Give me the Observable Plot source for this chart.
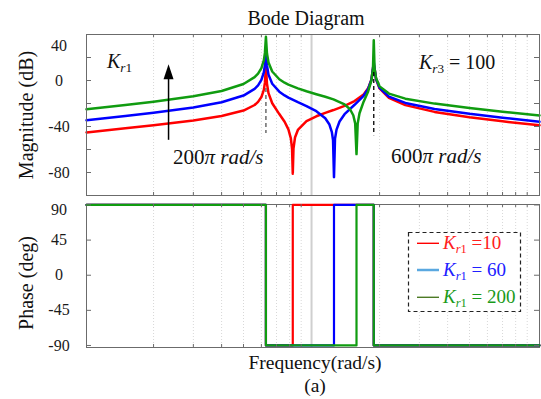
<!DOCTYPE html>
<html><head><meta charset="utf-8">
<script src="https://cdn.jsdelivr.net/npm/d3@7"></script>
<script src="https://cdn.jsdelivr.net/npm/@observablehq/plot@0.6"></script>
<style>
body{margin:0;background:#fff}
#fig{position:relative;width:541px;height:399px;overflow:hidden;background:#fff;font-family:'Liberation Serif','DejaVu Serif',serif}
#fig svg{position:absolute;left:0}
#fig svg text{font-family:'Liberation Serif','DejaVu Serif',serif !important}
</style></head><body><div id="fig"></div>
<script>
// ---- magnitude data (rad/s, dB) ----
const redFreq  = [101,150,200,300,400,500,560,580,600,615,622,628.3,635,645,670,720,760,790,810,820,826,832,845,870,950,1050,1150,1250,1400,1550,1700,1780,1840,1870,1885,1900,1930,2000,2200,2600,3500,5000,7000,10200];
const redMag   = [-45.2,-41.6,-38.9,-34.7,-30.8,-26.1,-21.3,-18.6,-14.4,-8.2,-1.9,12,-2.7,-11.0,-19.8,-29.2,-35.9,-42.5,-50.3,-59.4,-81,-59.1,-49.6,-43.0,-35.3,-31.1,-28.1,-25.7,-22.1,-17.9,-12.1,-6.8,0.8,10.4,14,10.5,1.1,-6.9,-15.1,-21.4,-27.3,-31.9,-35.5,-39.0];
const blueFreq = [101,150,200,300,400,500,560,580,600,615,622,628.3,635,645,670,720,760,790,870,950,1050,1150,1200,1230,1245,1257,1270,1290,1330,1400,1550,1700,1780,1840,1870,1885,1900,1930,2000,2200,2600,3500,5000,7000,10200];
const blueMag  = [-34.6,-30.9,-28.1,-23.4,-18.9,-13.1,-7.3,-4.2,0.5,7.0,13.5,27,13.1,5.1,-2.8,-9.7,-13.0,-14.9,-18.9,-22.3,-26.7,-32.8,-38.3,-44.9,-52.0,-84,-50.7,-42.7,-35.7,-29.3,-21.1,-13.3,-7.4,0.5,10.4,16,10.6,1.3,-6.4,-14.0,-19.5,-24.7,-29.0,-32.4,-35.9];
const greenFreq= [101,150,200,300,400,500,560,580,600,615,622,628.3,635,645,670,720,760,790,870,950,1050,1150,1250,1400,1480,1530,1560,1581,1600,1630,1700,1780,1840,1870,1885,1900,1930,2000,2200,2600,3500,5000,7000,10200];
const greenMag = [-25.1,-21.4,-18.5,-13.7,-9.1,-3.0,2.9,6.0,10.8,17.4,24.0,38,23.5,15.6,7.8,1.1,-1.9,-3.6,-6.9,-9.4,-11.9,-14.1,-16.4,-20.8,-25.0,-30.2,-37.3,-64,-37.5,-28.5,-18.4,-9.5,-0.2,10.1,35,10.8,1.9,-5.1,-11.4,-15.8,-20.1,-23.9,-27.1,-30.4];

// ---- phase data (step breakpoints) ----
const phaseRedFreq   = [101, 628.3, 826, 1885, 10200];
const phaseBlueFreq  = [101, 628.3, 1257, 1885, 10200];
const phaseGreenFreq = [101, 628.3, 1581, 1885, 10200];
const phaseValues    = [90, -90, 90, -90, -90];

// ---- axes ----
const freqDomain = [101, 10200];
const magDomain = [-100, 40];
const phaseDomain = [-92.6, 90.6];
const magTicks = [40, 20, 0, -20, -40, -60, -80, -100];
const magLabels = [0, -40, -80];
const magTopLabel = [40];
const phaseTicks = [90, 45, 0, -45, -90];
const phaseLabels = [45, 0, -45, -90];
const phaseTopLabel = [90];
const minorFreqs = [200,300,400,500,600,700,800,900,2000,3000,4000,5000,6000,7000,8000,9000];
const majorFreqs = [1000];
const resonance1 = [{f: 628.3, y1: -7, y2: -46}];
const resonance3 = [{f: 1885, y1: 7, y2: -48}];
const arrowData = [{f: 233, from: -52, to: 1}];
const legendValues = ["10", "60", "200"];

const RED = "#ff0000", BLUE = "#0000ff", GREEN = "#109c10", FRAME = "#6b6b6b";
const FONT = "Liberation Serif, DejaVu Serif, serif";

const tbl = (fs, vs) => fs.map((f, i) => ({f, v: vs[i]}));
const redT = tbl(redFreq, redMag), blueT = tbl(blueFreq, blueMag), greenT = tbl(greenFreq, greenMag);
const pRed = tbl(phaseRedFreq, phaseValues), pBlue = tbl(phaseBlueFreq, phaseValues), pGreen = tbl(phaseGreenFreq, phaseValues);

const arrowHead = {draw(ctx) { ctx.moveTo(0, -15); ctx.lineTo(5, 0); ctx.lineTo(-5, 0); ctx.closePath(); }};

const style = {fontFamily: FONT, fontSize: "16px", background: "transparent", color: "#1a1a1a", overflow: "visible"};

const topPlot = Plot.plot({
  width: 541, height: 200, marginTop: 34, marginBottom: 5, marginLeft: 86, marginRight: 2,
  style,
  x: {type: "log", domain: freqDomain, axis: null},
  y: {domain: magDomain, axis: null},
  marks: [
    Plot.ruleX(minorFreqs, {stroke: "#d8d8d8", strokeDasharray: "1,2"}),
    Plot.ruleX(majorFreqs, {stroke: "#cfcfcf", strokeWidth: 2}),
    Plot.line(redT, {x: "f", y: "v", stroke: RED, strokeWidth: 2.5}),
    Plot.line(blueT, {x: "f", y: "v", stroke: BLUE, strokeWidth: 2.5}),
    Plot.line(greenT, {x: "f", y: "v", stroke: GREEN, strokeWidth: 2.5}),
    Plot.ruleX(resonance1, {x: "f", y1: "y1", y2: "y2", stroke: "#555", strokeWidth: 1.3, strokeDasharray: "4,3"}),
    Plot.ruleX(resonance3, {x: "f", y1: "y1", y2: "y2", stroke: "#000", strokeWidth: 1.3, strokeDasharray: "4,3"}),
    Plot.ruleX(arrowData, {x: "f", y1: "from", y2: "to", stroke: "#000", strokeWidth: 1.5}),
    Plot.dot(arrowData, {x: "f", y: "to", symbol: arrowHead, fill: "#000", stroke: "none"}),
    Plot.frame({stroke: FRAME}),
    Plot.ruleY(magTicks, {insetRight: 448, stroke: FRAME}),
    Plot.ruleY(magTicks, {insetLeft: 448, stroke: FRAME}),
    Plot.ruleX(minorFreqs, {insetTop: 158, stroke: FRAME}),
    Plot.ruleX(minorFreqs, {insetBottom: 158, stroke: FRAME}),
    Plot.text(magLabels, {y: d => d, text: d => String(d), frameAnchor: "left", dx: -27.5, textAnchor: "middle", fill: "#1a1a1a"}),
    Plot.text(magTopLabel, {y: d => d, text: d => String(d), frameAnchor: "left", dx: -27.5, dy: 11, textAnchor: "middle", fill: "#1a1a1a"})
  ]
});

const botPlot = Plot.plot({
  width: 541, height: 150, marginTop: 4, marginBottom: 3, marginLeft: 86, marginRight: 2,
  style,
  x: {type: "log", domain: freqDomain, axis: null},
  y: {domain: phaseDomain, axis: null},
  marks: [
    Plot.ruleX(minorFreqs, {stroke: "#d8d8d8", strokeDasharray: "1,2"}),
    Plot.ruleX(majorFreqs, {stroke: "#cfcfcf", strokeWidth: 2}),
    Plot.frame({stroke: FRAME}),
    Plot.line(pRed, {x: "f", y: "v", curve: "step-after", stroke: RED, strokeWidth: 2.2}),
    Plot.line(pBlue, {x: "f", y: "v", curve: "step-after", stroke: BLUE, strokeWidth: 2.2}),
    Plot.line(pGreen, {x: "f", y: "v", curve: "step-after", stroke: GREEN, strokeWidth: 2.2}),
    Plot.ruleY(phaseTicks, {insetRight: 448, stroke: FRAME}),
    Plot.ruleY(phaseTicks, {insetLeft: 448, stroke: FRAME}),
    Plot.ruleX(minorFreqs, {insetTop: 140, stroke: FRAME}),
    Plot.ruleX(minorFreqs, {insetBottom: 140, stroke: FRAME}),
    Plot.text(phaseLabels, {y: d => d, text: d => String(d), frameAnchor: "left", dx: -27.5, textAnchor: "middle", fill: "#1a1a1a"}),
    Plot.text(phaseTopLabel, {y: d => d, text: d => String(d), frameAnchor: "left", dx: -27.5, dy: 4.5, textAnchor: "middle", fill: "#1a1a1a"})
  ]
});

const fig = document.getElementById("fig");
topPlot.style.top = "0px";
botPlot.style.top = "200px";
fig.appendChild(topPlot);
fig.appendChild(botPlot);

// rich text helper (italic / subscript pieces)
function rich(sel, x, y, size, fill, parts, anchor) {
  const t = sel.append("text").attr("x", x).attr("y", y).attr("font-size", size)
    .attr("fill", fill).style("font-family", FONT).attr("text-anchor", anchor || "start");
  let off = 0;
  parts.forEach(p => {
    const s = t.append("tspan").text(p.t);
    if (p.i) s.attr("font-style", "italic");
    const target = p.sub ? size * 0.22 : 0;
    if (target !== off) { s.attr("dy", target - off); off = target; }
    if (p.sub) s.attr("font-size", size * 0.66);
  });
  return t;
}

// annotations on the magnitude panel, positioned through the plot's scales
const xs = topPlot.scale("x"), ys = topPlot.scale("y");
const ts = d3.select(topPlot);
rich(ts, xs.apply(125), ys.apply(10.4), 20, "#111", [{t: "K", i: true}, {t: "r", i: true, sub: true}, {t: "1", sub: true}]);
rich(ts, xs.apply(3004), ys.apply(9.6), 20, "#111", [{t: "K", i: true}, {t: "r", i: true, sub: true}, {t: "3", sub: true}, {t: " = 100"}]);
rich(ts, xs.apply(245), ys.apply(-73), 21, "#111", [{t: "200"}, {t: "π rad/s", i: true}]);
rich(ts, xs.apply(2259), ys.apply(-72), 21, "#111", [{t: "600"}, {t: "π rad/s", i: true}]);

// overlay: titles, axis labels, legend
const ov = d3.select(fig).append("svg").attr("width", 541).attr("height", 399).style("top", "0px").style("pointer-events", "none");
const lbl = (x, y, txt, size, rot) => ov.append("text").attr("transform", `translate(${x},${y})` + (rot ? " rotate(-90)" : ""))
  .attr("text-anchor", "middle").style("font-family", FONT).attr("font-size", size).attr("fill", "#111").text(txt);
lbl(306, 25, "Bode Diagram", 20);
lbl(33, 115, "Magnitude (dB)", 20, true);
lbl(33, 283, "Phase (deg)", 20, true);
lbl(315, 369, "Frequency(rad/s)", 19.5);
lbl(315, 392, "(a)", 19.5);

// legend
ov.append("rect").attr("x", 408.5).attr("y", 232.5).attr("width", 112).attr("height", 79)
  .attr("fill", "#fff").attr("stroke", "#222").attr("stroke-width", 1.2).attr("stroke-dasharray", "4,3");
const legLine = [{c: "#ff0000", w: 1.4}, {c: "#5aa8e0", w: 2.5}, {c: "#4d7a25", w: 1.4}];
const legText = ["#ff2020", "#2020ff", "#1a9a1a"];
const legY = [243.3, 270, 297.3];
legendValues.forEach((v, i) => {
  ov.append("line").attr("x1", 417).attr("x2", 439).attr("y1", legY[i]).attr("y2", legY[i])
    .attr("stroke", legLine[i].c).attr("stroke-width", legLine[i].w);
  rich(ov, 443, legY[i] + 5.8, 19, legText[i], [{t: "K", i: true}, {t: "r", i: true, sub: true}, {t: "1", sub: true}, {t: (i === 0 ? " =" : " = ") + v}]);
});
</script></body></html>
